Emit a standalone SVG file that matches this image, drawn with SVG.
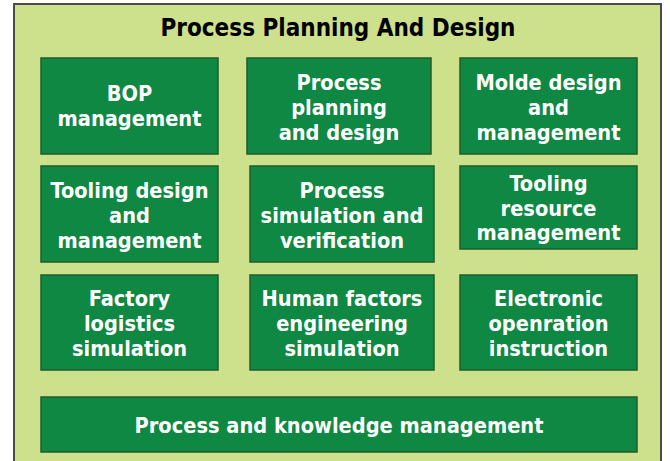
<svg xmlns="http://www.w3.org/2000/svg" width="670" height="461" viewBox="0 0 670 461">
<style>
.frame{fill:#cde08b;stroke:#4a4a4a;stroke-width:2}
.box{fill:#0e8843;stroke:#1f5c2e;stroke-width:1.5}
.t{font-family:"DejaVu Sans Condensed","DejaVu Sans",sans-serif;font-stretch:condensed;font-weight:bold;fill:#ffffff;font-size:21.6px;text-anchor:middle}
.title{font-family:"DejaVu Sans Condensed","DejaVu Sans",sans-serif;font-stretch:condensed;font-weight:bold;fill:#000000;font-size:24px;text-anchor:middle}
</style>
<rect width="670" height="461" fill="#ffffff"/>
<g id="frame">
<rect class="frame" x="14" y="4" width="647" height="470"/>
<text class="title" x="338" y="36">Process Planning And Design</text>
</g>
<g id="connectors"></g>
<g id="bop">
<rect class="box" x="41" y="58" width="177" height="96"/>
<text class="t" x="129.5" y="100.5">BOP</text>
<text class="t" x="129.5" y="126">management</text>
</g>
<g id="process-planning">
<rect class="box" x="247" y="58" width="184" height="96"/>
<text class="t" x="339" y="89.5">Process</text>
<text class="t" x="339" y="114.5">planning</text>
<text class="t" x="339" y="139.5">and design</text>
</g>
<g id="molde">
<rect class="box" x="460" y="58" width="177" height="96"/>
<text class="t" x="548.5" y="89.5">Molde design</text>
<text class="t" x="548.5" y="114.5">and</text>
<text class="t" x="548.5" y="139.5">management</text>
</g>
<g id="tooling-design">
<rect class="box" x="41" y="166" width="177" height="96"/>
<text class="t" x="129.5" y="197.5">Tooling design</text>
<text class="t" x="129.5" y="222.5">and</text>
<text class="t" x="129.5" y="247.5">management</text>
</g>
<g id="process-simulation">
<rect class="box" x="250" y="166" width="184" height="96"/>
<text class="t" x="342" y="197.5">Process</text>
<text class="t" x="342" y="222.5">simulation and</text>
<text class="t" x="342" y="247.5">verification</text>
</g>
<g id="tooling-resource">
<rect class="box" x="460" y="166" width="177" height="83"/>
<text class="t" x="548.5" y="191">Tooling</text>
<text class="t" x="548.5" y="215.5">resource</text>
<text class="t" x="548.5" y="240">management</text>
</g>
<g id="factory-logistics">
<rect class="box" x="41" y="275" width="177" height="95"/>
<text class="t" x="129.5" y="306">Factory</text>
<text class="t" x="129.5" y="331">logistics</text>
<text class="t" x="129.5" y="356">simulation</text>
</g>
<g id="human-factors">
<rect class="box" x="250" y="275" width="184" height="95"/>
<text class="t" x="342" y="306">Human factors</text>
<text class="t" x="342" y="331">engineering</text>
<text class="t" x="342" y="356">simulation</text>
</g>
<g id="electronic">
<rect class="box" x="460" y="275" width="177" height="95"/>
<text class="t" x="548.5" y="306">Electronic</text>
<text class="t" x="548.5" y="331">openration</text>
<text class="t" x="548.5" y="356">instruction</text>
</g>
<g id="knowledge">
<rect class="box" x="41" y="397" width="596" height="55"/>
<text class="t" x="339" y="433">Process and knowledge management</text>
</g>
</svg>
